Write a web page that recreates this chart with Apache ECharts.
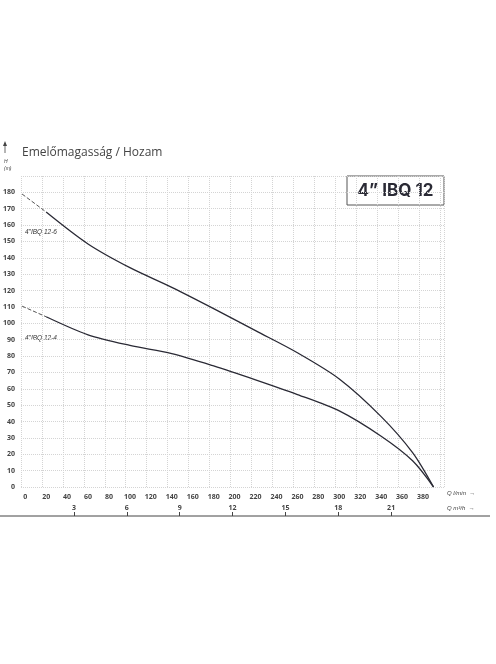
<!DOCTYPE html>
<html><head><meta charset="utf-8">
<script src="https://cdn.jsdelivr.net/npm/echarts@6/dist/echarts.min.js"></script>
<style>html,body{margin:0;background:#fff}#c{width:496px;height:664px}</style>
</head><body><div id="c"></div>
<script>
// Q l/min
const flow = [20, 60, 100, 140, 180, 220, 260, 300, 340, 370, 390];
const head6 = [168, 148.5, 134, 122, 109, 95.5, 82, 66, 43, 21, 0];
const head4 = [104, 93, 86.5, 81.5, 74, 65.5, 56.5, 46.5, 31, 16, 0];
const dash6 = [[-3, 179], [20, 168]];
const dash4 = [[-3, 110.5], [20, 104]];

const chart = echarts.init(document.getElementById('c'));
const lbl = {color: '#444', fontSize: 7, fontWeight: 'bold', fontFamily: 'Open Sans'};
chart.setOption({
    animation: false,
    grid: {left: 18, right: 52, top: 176, bottom: 177},
    xAxis: [{
        type: 'value', min: -4, max: 400, interval: 20,
        axisLine: {show: false}, axisTick: {show: false},
        axisLabel: Object.assign({margin: 6, formatter: v => v < 0 ? '' : v,
            customValues: [0,20,40,60,80,100,120,140,160,180,200,220,240,260,280,300,320,340,360,380]}, lbl),
        splitLine: {lineStyle: {color: '#d4d4d4', type: 'dotted'}}
    }, {
        type: 'value', min: 0, max: 400, position: 'bottom', offset: 29,
        axisLine: {show: false},
        axisTick: {inside: true, length: 4, lineStyle: {color: '#444'}, customValues: [50,100,150,200,250,300,350]},
        axisLabel: Object.assign({inside: true, margin: 5,
            customValues: [50,100,150,200,250,300,350], formatter: v => v * 0.06}, lbl),
        splitLine: {show: false}
    }],
    yAxis: {
        type: 'value', min: 0, max: 190, interval: 10,
        axisLine: {show: false}, axisTick: {show: false},
        axisLabel: Object.assign({margin: 6, formatter: v => v > 180 ? '' : v}, lbl),
        splitLine: {lineStyle: {color: '#d4d4d4', type: 'dotted'}}
    },
    series: [
        {type: 'line', smooth: 0.3, symbol: 'none', data: flow.map((q, i) => [q, head6[i]]), lineStyle: {color: '#2a2a35', width: 1.3}},
        {type: 'line', smooth: 0.3, symbol: 'none', data: flow.map((q, i) => [q, head4[i]]), lineStyle: {color: '#2a2a35', width: 1.3}},
        {type: 'line', symbol: 'none', data: dash6, lineStyle: {color: '#555', width: 1, type: 'dashed'}},
        {type: 'line', symbol: 'none', data: dash4, lineStyle: {color: '#555', width: 1, type: 'dashed'}}
    ],
    graphic: [
        {type: 'text', left: 22, top: 147, style: {text: 'Emelőmagasság / Hozam', fontSize: 12, fill: '#444', fontFamily: 'Open Sans'}},
        {type: 'line', shape: {x1: 5, y1: 153, x2: 5, y2: 143}, style: {stroke: '#444', lineWidth: 0.8}},
        {type: 'polygon', shape: {points: [[3, 146], [7, 146], [5, 141]]}, style: {fill: '#444'}},
        {type: 'text', left: 4, top: 158, style: {text: 'H\n(m)', fontSize: 5, fontStyle: 'italic', fill: '#444', lineHeight: 7}},
        {type: 'rect', shape: {x: 347, y: 176, width: 97, height: 29}, style: {fill: '#fff', stroke: '#555', lineWidth: 1}},
        {type: 'text', x: 395.5, y: 191, style: {text: '4” IBQ 12', fontSize: 17, fontWeight: 'bold', fill: '#2a2a35', fontFamily: 'Inter', align: 'center', verticalAlign: 'middle'}},
        {type: 'text', left: 25, top: 229, style: {text: '4"IBQ 12-6', fontSize: 6.5, fontStyle: 'italic', fill: '#333'}},
        {type: 'text', left: 25, top: 335, style: {text: '4"IBQ 12-4', fontSize: 6.5, fontStyle: 'italic', fill: '#333'}},
        {type: 'text', left: 447, top: 490, style: {text: 'Q l/min  →', fontSize: 6, fontStyle: 'italic', fill: '#444'}},
        {type: 'text', left: 447, top: 505, style: {text: 'Q m³/h  →', fontSize: 6, fontStyle: 'italic', fill: '#444'}},
        {type: 'line', shape: {x1: 0, y1: 516, x2: 490, y2: 516}, style: {stroke: '#444', lineWidth: 1}}
    ]
});
</script></body></html>
